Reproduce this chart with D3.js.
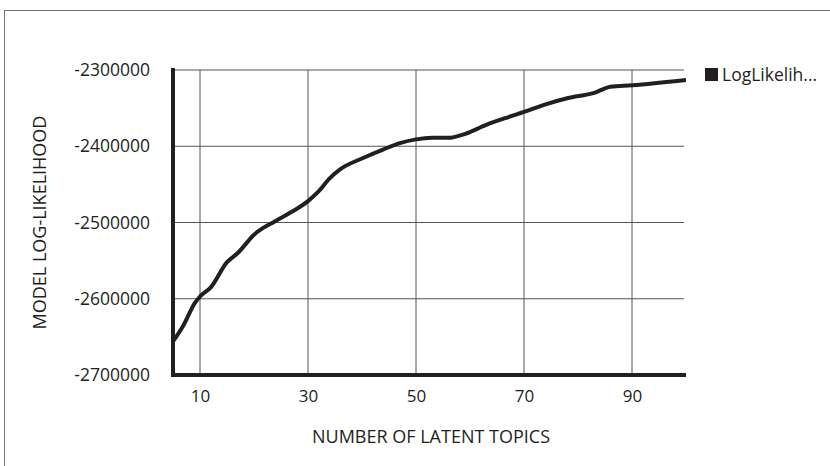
<!DOCTYPE html>
<html>
<head>
<meta charset="utf-8">
<script src="https://cdn.jsdelivr.net/npm/d3@7"></script>
<style>
  body { margin: 0; background: #fff; }
  text { font-family: "Open Sans", sans-serif; fill: #231f20; }
</style>
</head>
<body>
<div id="chart"></div>
<script>
/* DATA */
const topics = [5, 7, 9, 10, 12, 15, 17, 20, 24, 27, 30, 32, 34, 36, 40, 44, 47, 50, 53, 56, 59, 63, 67, 70, 74, 78, 83, 86, 90, 100];
const logLik = [-2656000, -2634000, -2606000, -2597000, -2585000, -2552000, -2540000, -2516000, -2498000, -2486000,
  -2472000, -2459000, -2442000, -2430000, -2416000, -2404000, -2396000, -2391000, -2389000, -2389000,
  -2384000, -2372000, -2362000, -2355000, -2345000, -2337000, -2330000, -2322000, -2320000, -2313000];
const xTicks = [10, 30, 50, 70, 90];
const yTicks = [-2300000, -2400000, -2500000, -2600000, -2700000];
const seriesName = "LogLikelih...";

/* CONSTANTS */
const width = 830,
  height = 466,
  margin = { top: 70, bottom: 91, left: 173, right: 144 };

const svg = d3.select("#chart")
  .append("svg")
  .attr("width", width)
  .attr("height", height);

// outer frame
svg.append("rect")
  .attr("x", 4.5)
  .attr("y", 10.5)
  .attr("width", width + 10)
  .attr("height", height + 10)
  .attr("fill", "none")
  .attr("stroke", "#777")
  .attr("stroke-width", 1);

// scales
const xScale = d3.scaleLinear()
  .domain([5, 100])
  .range([margin.left, width - margin.right]);

const yScale = d3.scaleLinear()
  .domain([-2700000, -2300000])
  .range([height - margin.bottom, margin.top]);

// gridlines
svg.append("g")
  .attr("class", "grid")
  .selectAll("line.h")
  .data(yTicks)
  .join("line")
  .attr("x1", margin.left)
  .attr("x2", width - margin.right - 2)
  .attr("y1", d => yScale(d))
  .attr("y2", d => yScale(d))
  .attr("stroke", "#555")
  .attr("stroke-width", 1);

svg.append("g")
  .attr("class", "grid")
  .selectAll("line.v")
  .data(xTicks)
  .join("line")
  .attr("x1", d => xScale(d))
  .attr("x2", d => xScale(d))
  .attr("y1", margin.top)
  .attr("y2", height - margin.bottom)
  .attr("stroke", "#555")
  .attr("stroke-width", 1);

// axes (plain hyphen for the minus sign, as in the original)
const xAxis = d3.axisBottom(xScale).tickValues(xTicks).tickSize(0).tickPadding(15);
const yAxis = d3.axisLeft(yScale).tickValues(yTicks).tickSize(0).tickPadding(23).tickFormat(d => String(d));

svg.append("g")
  .attr("class", "axis x-axis")
  .attr("transform", `translate(0,${height - margin.bottom})`)
  .call(xAxis)
  .call(g => g.select(".domain").remove())
  .selectAll("text")
  .attr("font-size", 17);

svg.append("g")
  .attr("class", "axis y-axis")
  .attr("transform", `translate(${margin.left},0)`)
  .call(yAxis)
  .call(g => g.select(".domain").remove())
  .selectAll("text")
  .attr("font-size", 17.5);

// thick axis lines
svg.append("line")
  .attr("x1", margin.left)
  .attr("x2", margin.left)
  .attr("y1", margin.top - 2)
  .attr("y2", height - margin.bottom + 2)
  .attr("stroke", "#231f20")
  .attr("stroke-width", 4);

svg.append("line")
  .attr("x1", margin.left - 2)
  .attr("x2", width - margin.right)
  .attr("y1", height - margin.bottom)
  .attr("y2", height - margin.bottom)
  .attr("stroke", "#231f20")
  .attr("stroke-width", 4);

// the line
const line = d3.line()
  .x((d, i) => xScale(topics[i]))
  .y(d => yScale(d))
  .curve(d3.curveMonotoneX);

svg.append("path")
  .datum(logLik)
  .attr("d", line)
  .attr("fill", "none")
  .attr("stroke", "#231f20")
  .attr("stroke-width", 4)
  .attr("stroke-linejoin", "round");

// axis titles
svg.append("text")
  .attr("x", 431)
  .attr("y", 443)
  .attr("text-anchor", "middle")
  .attr("font-size", 18)
  .text("NUMBER OF LATENT TOPICS");

svg.append("text")
  .attr("transform", `translate(46,${(margin.top + height - margin.bottom) / 2}) rotate(-90)`)
  .attr("text-anchor", "middle")
  .attr("font-size", 18)
  .text("MODEL LOG-LIKELIHOOD");

// legend
const legend = svg.append("g").attr("transform", "translate(705,68)");
legend.append("rect")
  .attr("width", 13)
  .attr("height", 13)
  .attr("fill", "#231f20");
legend.append("text")
  .attr("x", 17)
  .attr("y", 13)
  .attr("font-size", 17.5)
  .text(seriesName);
</script>
</body>
</html>
